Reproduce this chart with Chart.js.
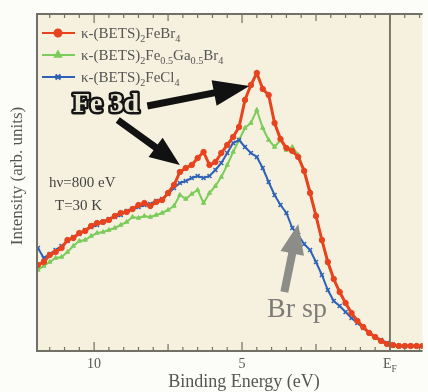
<!DOCTYPE html>
<html>
<head>
<meta charset="utf-8">
<script src="https://cdn.jsdelivr.net/npm/chart.js@4.4.0/dist/chart.umd.min.js"></script>
<style>
  html, body { margin: 0; padding: 0; background: #fcfcf8; }
</style>
</head>
<body>
<canvas id="chart" width="428" height="392"></canvas>
<script>
// binding energy (eV), same grid for the three spectra
var energy = [11.9,11.7,11.5,11.3,11.1,10.9,10.7,10.5,10.3,10.1,9.9,9.7,9.5,9.3,9.1,8.9,8.7,8.5,8.3,8.1,
  7.9,7.7,7.5,7.3,7.1,6.9,6.7,6.5,6.3,6.1,5.9,5.7,5.5,5.3,5.1,4.9,4.7,4.5,4.3,4.1,
  3.9,3.7,3.5,3.3,3.1,2.9,2.7,2.5,2.3,2.1,1.9,1.7,1.5,1.3,1.1,0.9,0.7,0.5,0.3,0.1,
  -0.1,-0.3,-0.5,-0.7,-0.9,-1.1];

// intensity (arb. units)
var feBr4 = [86,89,96,99,103,111,113,118,120,125,128,129,131,135,138,139,142,146,148,145,
  149,151,158,166,179,183,186,193,199,186,189,198,206,214,224,251,266,278,262,256,
  228,212,203,200,194,180,158,135,111,89,72,59,48,38,30,24,18,14,10,7,
  6,5,5,5,5,5];
var feGaBr4 = [81,85,89,93,94,99,105,110,111,115,118,119,121,123,126,129,134,133,135,134,
  136,138,141,145,156,152,157,161,148,158,165,174,186,199,211,223,228,241,223,211,
  204,211,201,204,196,181,160,136,110,88,72,59,48,38,30,24,18,14,10,7,
  5,5,5,5,5,5];
var feCl4 = [103,93,97,101,105,110,114,117,121,124,126,129,132,134,136,140,142,144,146,147,
  150,152,157,163,168,170,173,175,173,175,181,188,198,208,211,204,198,194,183,169,
  156,146,138,123,116,107,101,89,76,61,50,45,39,33,28,23,18,14,11,8,
  6,5,5,5,5,5];

// legend names, parts: [text, isSubscript]
var seriesNames = [
  [['κ-(BETS)',0],['2',1],['FeBr',0],['4',1]],
  [['κ-(BETS)',0],['2',1],['Fe',0],['0.5',1],['Ga',0],['0.5',1],['Br',0],['4',1]],
  [['κ-(BETS)',0],['2',1],['FeCl',0],['4',1]]
];
var seriesColors = ['#e8431f', '#7ccc5c', '#2f62b6'];
var seriesMarkers = ['circle', 'triangle', 'crossRot'];

var xTickValues = [10, 5, 0];
var xTickLabels = [[['10',0]], [['5',0]], [['E',0],['F',1]]];

var SERIF = "'Liberation Serif', 'DejaVu Serif', serif";

function pts(ys){
  return energy.map(function(e, i){ return {x: e, y: ys[i]}; });
}

function drawRich(ctx, parts, x, y, size, align){
  var w = 0;
  parts.forEach(function(p){
    ctx.font = (p[1] ? size*0.68 : size) + 'px ' + SERIF;
    w += ctx.measureText(p[0]).width;
  });
  var cx = align === 'center' ? x - w/2 : x;
  parts.forEach(function(p){
    ctx.font = (p[1] ? size*0.68 : size) + 'px ' + SERIF;
    ctx.fillText(p[0], cx, y + (p[1] ? size*0.28 : 0));
    cx += ctx.measureText(p[0]).width;
  });
}

function arrow(ctx, x1, y1, x2, y2, shaft, headLen, headW, color){
  var dx = x2-x1, dy = y2-y1, L = Math.sqrt(dx*dx+dy*dy);
  var ux = dx/L, uy = dy/L, nx = -uy, ny = ux;
  var bx = x2 - ux*headLen, by = y2 - uy*headLen;
  ctx.fillStyle = color;
  ctx.beginPath();
  ctx.moveTo(x1 + nx*shaft/2, y1 + ny*shaft/2);
  ctx.lineTo(bx + nx*shaft/2, by + ny*shaft/2);
  ctx.lineTo(bx + nx*headW, by + ny*headW);
  ctx.lineTo(x2, y2);
  ctx.lineTo(bx - nx*headW, by - ny*headW);
  ctx.lineTo(bx - nx*shaft/2, by - ny*shaft/2);
  ctx.lineTo(x1 - nx*shaft/2, y1 - ny*shaft/2);
  ctx.closePath();
  ctx.fill();
}

var decor = {
  id: 'decor',
  beforeDraw: function(chart){
    var ctx = chart.ctx, a = chart.chartArea;
    ctx.save();
    ctx.fillStyle = '#fcfcf8';
    ctx.fillRect(0, 0, chart.width, chart.height);
    ctx.fillStyle = '#f5f1de';
    ctx.fillRect(a.left, a.top, a.right - a.left, a.bottom - a.top);
    ctx.restore();
  },
  beforeDatasetsDraw: function(chart){
    var ctx = chart.ctx, a = chart.chartArea, x = chart.scales.x;
    ctx.save();
    // Fermi level line
    ctx.strokeStyle = '#55554c';
    ctx.lineWidth = 1.5;
    var xf = x.getPixelForValue(0);
    ctx.beginPath(); ctx.moveTo(xf, a.top); ctx.lineTo(xf, a.bottom); ctx.stroke();
    ctx.restore();
  },
  afterDatasetsDraw: function(chart){
    var ctx = chart.ctx, a = chart.chartArea, x = chart.scales.x, y = chart.scales.y;
    ctx.save();
    // frame
    ctx.strokeStyle = '#707066';
    ctx.lineWidth = 2;
    ctx.beginPath();
    ctx.moveTo(a.right, a.top); ctx.lineTo(a.left, a.top);
    ctx.lineTo(a.left, a.bottom); ctx.lineTo(a.right, a.bottom);
    ctx.stroke();
    // inward ticks every 0.5 eV, longer at 2.5 and 5
    ctx.lineWidth = 1.2;
    for (var k = -2; k <= 23; k++){
      var e = k*0.5;
      var px = x.getPixelForValue(e);
      if (px < a.left + 2 || px > a.right) continue;
      var len = (k % 10 === 0) ? 9 : (k % 5 === 0 ? 7 : 4);
      ctx.beginPath();
      ctx.moveTo(px, a.bottom); ctx.lineTo(px, a.bottom - len);
      ctx.moveTo(px, a.top); ctx.lineTo(px, a.top + len);
      ctx.stroke();
    }
    // tick labels
    ctx.fillStyle = '#555';
    ctx.textBaseline = 'alphabetic';
    xTickValues.forEach(function(v, i){
      drawRich(ctx, xTickLabels[i], x.getPixelForValue(v), a.bottom + 17, 14, 'center');
    });
    // axis titles
    ctx.font = '18px ' + SERIF;
    ctx.textAlign = 'center';
    ctx.fillStyle = '#555';
    ctx.fillText('Binding Energy (eV)', 244, 387);
    ctx.save();
    ctx.translate(22, 176);
    ctx.rotate(-Math.PI/2);
    ctx.font = '17px ' + SERIF;
    ctx.fillText('Intensity (arb. units)', 0, 0);
    ctx.restore();
    ctx.textAlign = 'left';

    // legend
    for (var s = 0; s < 3; s++){
      var ry = a.top + 19 + s*22;
      ctx.strokeStyle = seriesColors[s];
      ctx.lineWidth = 2;
      ctx.beginPath(); ctx.moveTo(a.left + 5, ry); ctx.lineTo(a.left + 38, ry); ctx.stroke();
      Chart.helpers.drawPoint(ctx, {pointStyle: seriesMarkers[s], radius: 3.5, borderWidth: 1.5, rotation: 0},
        a.left + 21, ry);
      ctx.fillStyle = seriesColors[s];
      ctx.fill();
      ctx.fillStyle = '#555';
      drawRich(ctx, seriesNames[s], a.left + 44, ry + 5, 15, 'left');
    }

    // sample conditions
    ctx.fillStyle = '#444';
    ctx.font = '15px ' + SERIF;
    ctx.fillText('hν=800 eV', 49, 187);
    ctx.fillText('T=30 K', 55, 210);

    // annotations, anchored to data coordinates
    function P(e, v){ return [x.getPixelForValue(e), y.getPixelForValue(v)]; }
    var t1 = P(8.2, 245), h1 = P(4.75, 265);
    arrow(ctx, t1[0], t1[1], h1[0], h1[1], 7, 36, 13, '#111');
    var t2 = P(9.2, 231), h2 = P(7.1, 186);
    arrow(ctx, t2[0], t2[1], h2[0], h2[1], 7, 30, 12, '#111');
    var t3 = P(3.57, 59), h3 = P(3.1, 127);
    arrow(ctx, t3[0], t3[1], h3[0], h3[1], 8, 30, 12, '#8c8c88');

    ctx.font = 'bold 28px ' + SERIF;
    ctx.lineJoin = 'round';
    ctx.lineWidth = 5;
    ctx.strokeStyle = '#151515';
    ctx.strokeText('Fe 3d', 73, 112);
    ctx.fillStyle = '#ebe7d6';
    ctx.fillText('Fe 3d', 73, 112);

    ctx.font = '28px ' + SERIF;
    ctx.fillStyle = '#7c7c78';
    ctx.fillText('Br sp', 267, 317);
    ctx.restore();
  }
};

function series(label, data, i, width, radius){
  return {
    label: label,
    data: pts(data),
    borderColor: seriesColors[i],
    backgroundColor: seriesColors[i],
    borderWidth: width,
    pointStyle: seriesMarkers[i],
    pointRadius: radius,
    pointBorderWidth: i === 2 ? 1.5 : 1,
    tension: 0
  };
}

var ctx = document.getElementById('chart').getContext('2d');
window.spec = new Chart(ctx, {
  type: 'line',
  data: {
    datasets: [
      series('FeBr4', feBr4, 0, 3, 2.7),
      series('FeCl4', feCl4, 2, 2, 2.8),
      series('Fe0.5Ga0.5Br4', feGaBr4, 1, 2, 2.5)
    ]
  },
  options: {
    responsive: false,
    animation: false,
    layout: { padding: { left: 37, top: 14, right: 0, bottom: 41 } },
    plugins: { legend: { display: false }, tooltip: { enabled: false } },
    scales: {
      x: { type: 'linear', min: -1.1, max: 11.93, reverse: true, display: false },
      y: { min: 0, max: 337, display: false }
    }
  },
  plugins: [decor]
});
</script>
</body>
</html>
